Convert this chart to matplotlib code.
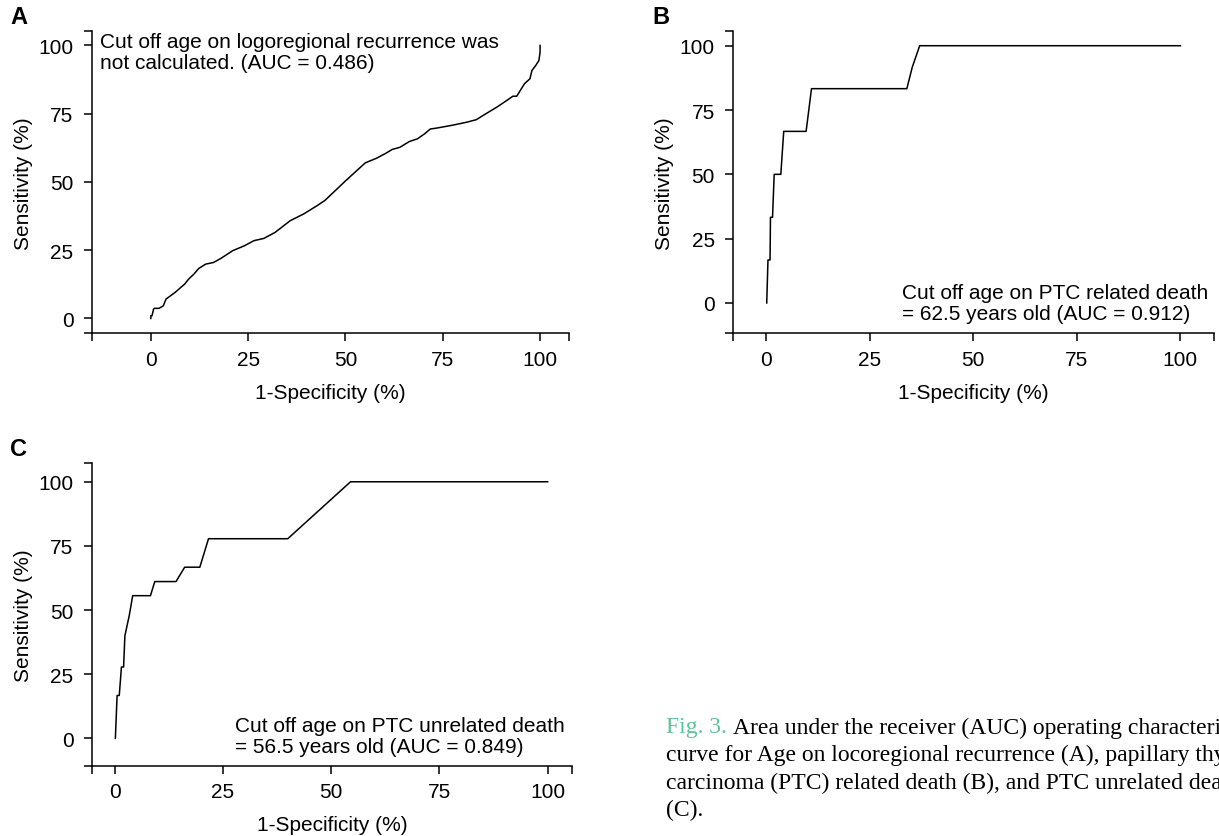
import matplotlib
matplotlib.use("Agg")
import matplotlib.pyplot as plt

# ---- data --------------------------------------------------------------------
a_fpr = [0, 0, 0.3, 0.7, 0.9, 2.1, 3.2, 3.9, 6.2, 8.7, 9.7, 11.1, 12.3, 14.1, 16.1,
         18.0, 21.0, 24.0, 26.5, 29.0, 31.9, 35.8, 39.3, 40.2, 42.7, 44.7, 50.1,
         55.1, 58.0, 60.5, 62.0, 64.0, 66.4, 68.5, 70.3, 71.8, 73.3, 77.2, 81.2,
         83.6, 86.1, 89.0, 91.5, 93.0, 94.0, 96.0, 97.4, 97.9, 98.9, 99.7, 100, 100]
a_tpr = [0, 1.0, 1.0, 3.4, 3.7, 3.7, 4.6, 7.1, 9.5, 12.6, 14.4, 16.3, 18.3, 19.9, 20.5,
         22.0, 24.8, 26.6, 28.5, 29.3, 31.5, 35.8, 38.3, 39.1, 41.3, 43.2, 50.5,
         57.0, 58.7, 60.6, 61.9, 62.7, 64.8, 65.8, 67.6, 69.4, 69.7, 70.7, 71.9,
         72.8, 75.0, 77.5, 79.9, 81.4, 81.4, 86.0, 87.8, 90.8, 92.7, 94.5, 97.5, 100]

b_fpr = [0.2, 0.5, 1.0, 1.1, 1.6, 2.0, 3.6, 4.3, 9.7, 11.0, 34.0, 35.3, 37.1, 100]
b_tpr = [0, 16.7, 16.7, 33.3, 33.3, 50.0, 50.0, 66.7, 66.7, 83.3, 83.3, 91.6, 100, 100]

c_fpr = [0.2, 0.6, 1.1, 1.6, 2.1, 2.4, 3.4, 4.2, 8.3, 9.3, 14.2, 16.2, 19.7, 21.7,
         40.0, 54.5, 100]
c_tpr = [0, 16.7, 16.7, 27.8, 27.8, 40.0, 47.8, 55.6, 55.6, 61.1, 61.1, 66.7, 66.7,
         77.8, 77.8, 100, 100]

ticks = [0, 25, 50, 75, 100]

caption = ["Area under the receiver (AUC) operating characteristic",
           "curve for Age on locoregional recurrence (A), papillary thyroid",
           "carcinoma (PTC) related death (B), and PTC unrelated death",
           "(C)."]

# ---- plot ----------------------------------------------------------------------
FS = 15
plt.rcParams.update({"font.family": ["Liberation Sans", "DejaVu Sans"], "font.size": FS})

fig = plt.figure(figsize=(12.19, 8.37), dpi=100)


def roc_panel(rect, fpr, tpr, xlim, ylim):
    ax = fig.add_axes(rect)
    ax.plot(fpr, tpr, color="black", lw=1.1)
    ax.set_xlim(*xlim)
    ax.set_ylim(*ylim)
    # R-style frame: end ticks at both ends of each axis line
    ax.set_xticks([xlim[0]] + ticks + [xlim[1]])
    ax.set_xticklabels([""] + [str(t) for t in ticks] + [""])
    ax.set_yticks([ylim[0]] + ticks + [ylim[1]])
    ax.set_yticklabels([""] + [str(t) for t in ticks] + [""])
    ax.spines[["top", "right"]].set_visible(False)
    ax.spines[["left", "bottom"]].set_linewidth(1.1)
    ax.tick_params(length=6, width=1.1, labelsize=FS)
    ax.tick_params(axis="x", pad=6)
    ax.tick_params(axis="y", pad=7)
    ax.set_xlabel("1-Specificity (%)", fontsize=FS, labelpad=10)
    ax.set_ylabel("Sensitivity (%)", fontsize=FS, labelpad=4)
    ax.patch.set_alpha(0)
    return ax


axA = roc_panel([0.0752, 0.6004, 0.3918, 0.3614], a_fpr, a_tpr,
                (-15.2, 107.5), (-5.5, 105.3))
axB = roc_panel([0.6011, 0.6006, 0.3948, 0.3608], b_fpr, b_tpr,
                (-8.0, 108.1), (-11.8, 105.6))
axC = roc_panel([0.0751, 0.0842, 0.3944, 0.3614], c_fpr, c_tpr,
                (-5.3, 105.7), (-10.6, 107.3))

axA.text(-13.0, 105.0, "Cut off age on logoregional recurrence was\nnot calculated. (AUC = 0.486)",
         ha="left", va="top", fontsize=FS, linespacing=1.15)
axB.text(32.8, 7.8, "Cut off age on PTC related death\n= 62.5 years old (AUC = 0.912)",
         ha="left", va="top", fontsize=FS, linespacing=1.15, clip_on=False)
axC.text(27.8, 8.7, "Cut off age on PTC unrelated death\n= 56.5 years old (AUC = 0.849)",
         ha="left", va="top", fontsize=FS, linespacing=1.15)

fig.text(10 / 1219, 1 - 18 / 837, "A", fontsize=17, fontweight="bold", va="center")
fig.text(652 / 1219, 1 - 18 / 837, "B", fontsize=17, fontweight="bold", va="center")
fig.text(10 / 1219, 1 - 450 / 837, "C", fontsize=17, fontweight="bold", va="center")

# caption, clipped at the right edge as in the source page
SERIF = ["Liberation Serif", "DejaVu Serif"]
cx = 666 / 1219
y0 = 1 - 728 / 837
dy = 27.5 / 837
t = fig.text(cx, y0, "Fig. 3.", color="#5cc49a", fontsize=17, family=SERIF, va="center")
fig.canvas.draw()
bb = t.get_window_extent()
fig.text((bb.x1 + 6) / 1219, y0, caption[0], fontsize=17, family=SERIF, va="center")
for i, line in enumerate(caption[1:], start=1):
    fig.text(cx, y0 - i * dy, line, fontsize=17, family=SERIF, va="center")

fig.savefig("out.png", dpi=100, facecolor="white")
